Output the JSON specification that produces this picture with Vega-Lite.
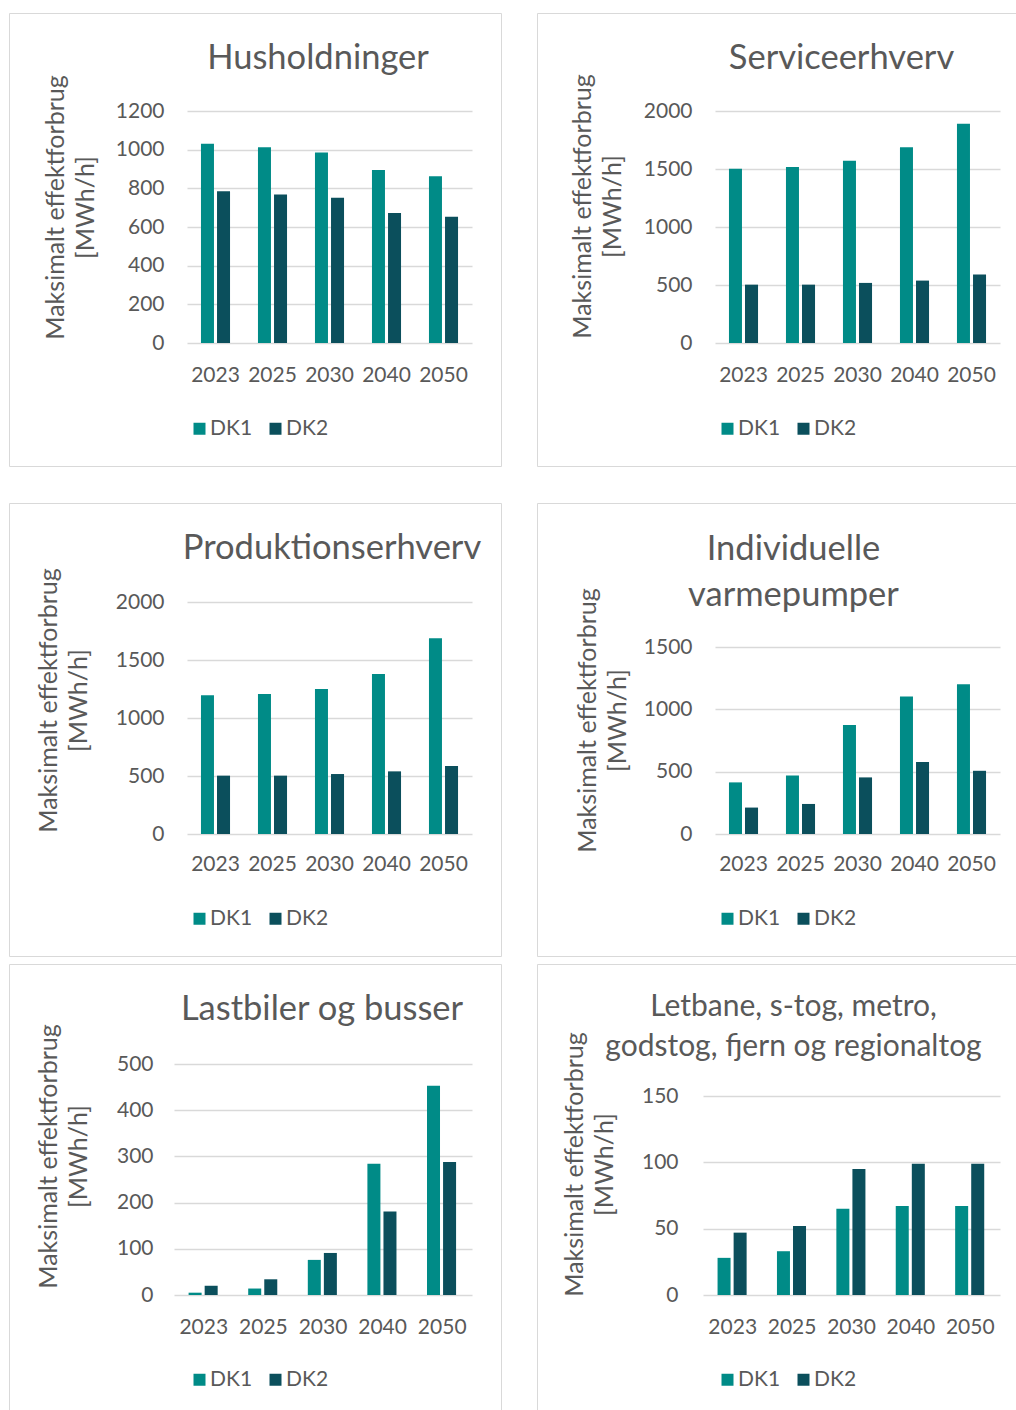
{
  "$schema": "https://vega.github.io/schema/vega-lite/v6.json",
  "padding": {"left": 8, "top": 12, "right": 0, "bottom": 0},
  "background": "white",
  "spacing": 6,
  "config": {
    "font": "Lato",
    "view": {"stroke": "#d9d9d9", "strokeWidth": 1},
    "axis": {
      "labelColor": "#595959", "labelFont": "Lato", "labelFontSize": 21,
      "domain": false, "ticks": false, "tickSize": 0,
      "gridColor": "#d9d9d9", "gridWidth": 1.5,
      "titleColor": "#595959", "titleFont": "Lato", "titleFontWeight": "normal", "titleFontSize": 25
    },
    "legend": {
      "orient": "none", "direction": "horizontal", "symbolType": "square", "symbolSize": 144,
      "symbolStrokeWidth": 0, "labelFont": "Lato", "labelFontSize": 21, "labelColor": "#595959",
      "columnPadding": 12, "labelOffset": 0, "title": null
    },
    "title": {"font": "Lato", "fontSize": 34.5, "fontWeight": "normal", "color": "#595959", "anchor": "middle", "frame": "group"}
  },
  "vconcat": [
    {
      "vconcat": [
        {
          "hconcat": [
            {
              "width": 492, "height": 453,
              "title": {"text": "Husholdninger", "offset": -63, "dx": 63},
              "data": {"values": [
                {"year": "2023", "zone": "DK1", "value": 1030}, {"year": "2023", "zone": "DK2", "value": 785},
                {"year": "2025", "zone": "DK1", "value": 1012}, {"year": "2025", "zone": "DK2", "value": 768},
                {"year": "2030", "zone": "DK1", "value": 985}, {"year": "2030", "zone": "DK2", "value": 751},
                {"year": "2040", "zone": "DK1", "value": 895}, {"year": "2040", "zone": "DK2", "value": 673},
                {"year": "2050", "zone": "DK1", "value": 863}, {"year": "2050", "zone": "DK2", "value": 653}
              ]},
              "mark": {"type": "bar"},
              "encoding": {
                "x": {"field": "year", "type": "nominal", "sort": null, "scale": {"range": [178, 463], "paddingInner": 0.49, "paddingOuter": 0.245}, "axis": {"title": null, "grid": false, "offset": -123, "labelPadding": 32, "labelBaseline": "middle", "labelAngle": 0}},
                "xOffset": {"field": "zone", "type": "nominal", "scale": {"paddingInner": 0.19, "paddingOuter": 0}},
                "y": {"field": "value", "type": "quantitative", "scale": {"domain": [0, 1200], "range": [330, 98], "nice": false}, "axis": {"values": [0, 200, 400, 600, 800, 1000, 1200], "format": "d", "offset": -155, "labelPadding": 0, "title": ["Maksimalt effektforbrug", "[MWh/h]"], "titleAngle": 270, "titleAlign": "center", "titleBaseline": "middle", "titleX": -109, "titleY": 194, "titleLineHeight": 30}},
                "color": {"field": "zone", "type": "nominal", "scale": {"domain": ["DK1", "DK2"], "range": ["#008B87", "#0B4F5C"]}, "legend": {"legendX": 180, "legendY": 405}}
              }
            },
            {
              "width": 479, "height": 453,
              "title": {"text": "Serviceerhverv", "offset": -63, "dx": 65},
              "data": {"values": [
                {"year": "2023", "zone": "DK1", "value": 1503}, {"year": "2023", "zone": "DK2", "value": 503},
                {"year": "2025", "zone": "DK1", "value": 1517}, {"year": "2025", "zone": "DK2", "value": 503},
                {"year": "2030", "zone": "DK1", "value": 1572}, {"year": "2030", "zone": "DK2", "value": 518},
                {"year": "2040", "zone": "DK1", "value": 1687}, {"year": "2040", "zone": "DK2", "value": 538},
                {"year": "2050", "zone": "DK1", "value": 1891}, {"year": "2050", "zone": "DK2", "value": 590}
              ]},
              "mark": {"type": "bar"},
              "encoding": {
                "x": {"field": "year", "type": "nominal", "sort": null, "scale": {"range": [178, 463], "paddingInner": 0.49, "paddingOuter": 0.245}, "axis": {"title": null, "grid": false, "offset": -123, "labelPadding": 32, "labelBaseline": "middle", "labelAngle": 0}},
                "xOffset": {"field": "zone", "type": "nominal", "scale": {"paddingInner": 0.19, "paddingOuter": 0}},
                "y": {"field": "value", "type": "quantitative", "scale": {"domain": [0, 2000], "range": [330, 98], "nice": false}, "axis": {"values": [0, 500, 1000, 1500, 2000], "format": "d", "offset": -155, "labelPadding": 0, "title": ["Maksimalt effektforbrug", "[MWh/h]"], "titleAngle": 270, "titleAlign": "center", "titleBaseline": "middle", "titleX": -110, "titleY": 193, "titleLineHeight": 30}},
                "color": {"field": "zone", "type": "nominal", "scale": {"domain": ["DK1", "DK2"], "range": ["#008B87", "#0B4F5C"]}, "legend": {"legendX": 180, "legendY": 405}}
              }
            }
          ],
          "spacing": 34,
          "resolve": {"scale": {"color": "independent"}}
        },
        {
          "hconcat": [
            {
              "width": 492, "height": 453,
              "title": {"text": "Produktionserhverv", "offset": -63, "dx": 77},
              "data": {"values": [
                {"year": "2023", "zone": "DK1", "value": 1196}, {"year": "2023", "zone": "DK2", "value": 503},
                {"year": "2025", "zone": "DK1", "value": 1207}, {"year": "2025", "zone": "DK2", "value": 503},
                {"year": "2030", "zone": "DK1", "value": 1250}, {"year": "2030", "zone": "DK2", "value": 517},
                {"year": "2040", "zone": "DK1", "value": 1379}, {"year": "2040", "zone": "DK2", "value": 540},
                {"year": "2050", "zone": "DK1", "value": 1687}, {"year": "2050", "zone": "DK2", "value": 586}
              ]},
              "mark": {"type": "bar"},
              "encoding": {
                "x": {"field": "year", "type": "nominal", "sort": null, "scale": {"range": [178, 463], "paddingInner": 0.49, "paddingOuter": 0.245}, "axis": {"title": null, "grid": false, "offset": -122, "labelPadding": 30, "labelBaseline": "middle", "labelAngle": 0}},
                "xOffset": {"field": "zone", "type": "nominal", "scale": {"paddingInner": 0.19, "paddingOuter": 0}},
                "y": {"field": "value", "type": "quantitative", "scale": {"domain": [0, 2000], "range": [331, 99], "nice": false}, "axis": {"values": [0, 500, 1000, 1500, 2000], "format": "d", "offset": -155, "labelPadding": 0, "title": ["Maksimalt effektforbrug", "[MWh/h]"], "titleAngle": 270, "titleAlign": "center", "titleBaseline": "middle", "titleX": -116, "titleY": 197, "titleLineHeight": 30}},
                "color": {"field": "zone", "type": "nominal", "scale": {"domain": ["DK1", "DK2"], "range": ["#008B87", "#0B4F5C"]}, "legend": {"legendX": 180, "legendY": 405}}
              }
            },
            {
              "width": 479, "height": 453,
              "title": {"text": ["Individuelle", "varmepumper"], "offset": -110, "dx": 17, "lineHeight": 46},
              "data": {"values": [
                {"year": "2023", "zone": "DK1", "value": 414}, {"year": "2023", "zone": "DK2", "value": 212},
                {"year": "2025", "zone": "DK1", "value": 470}, {"year": "2025", "zone": "DK2", "value": 241},
                {"year": "2030", "zone": "DK1", "value": 875}, {"year": "2030", "zone": "DK2", "value": 454},
                {"year": "2040", "zone": "DK1", "value": 1102}, {"year": "2040", "zone": "DK2", "value": 577},
                {"year": "2050", "zone": "DK1", "value": 1202}, {"year": "2050", "zone": "DK2", "value": 507}
              ]},
              "mark": {"type": "bar"},
              "encoding": {
                "x": {"field": "year", "type": "nominal", "sort": null, "scale": {"range": [178, 463], "paddingInner": 0.49, "paddingOuter": 0.245}, "axis": {"title": null, "grid": false, "offset": -122, "labelPadding": 30, "labelBaseline": "middle", "labelAngle": 0}},
                "xOffset": {"field": "zone", "type": "nominal", "scale": {"paddingInner": 0.19, "paddingOuter": 0}},
                "y": {"field": "value", "type": "quantitative", "scale": {"domain": [0, 1500], "range": [331, 144], "nice": false}, "axis": {"values": [0, 500, 1000, 1500], "format": "d", "offset": -155, "labelPadding": 0, "title": ["Maksimalt effektforbrug", "[MWh/h]"], "titleAngle": 270, "titleAlign": "center", "titleBaseline": "middle", "titleX": -105, "titleY": 217, "titleLineHeight": 30}},
                "color": {"field": "zone", "type": "nominal", "scale": {"domain": ["DK1", "DK2"], "range": ["#008B87", "#0B4F5C"]}, "legend": {"legendX": 180, "legendY": 405}}
              }
            }
          ],
          "spacing": 34,
          "resolve": {"scale": {"color": "independent"}}
        }
      ],
      "spacing": 35,
      "resolve": {"scale": {"color": "independent"}}
    },
    {
      "hconcat": [
        {
          "width": 492, "height": 446,
          "title": {"text": "Lastbiler og busser", "offset": -63, "dx": 67},
          "data": {"values": [
            {"year": "2023", "zone": "DK1", "value": 5}, {"year": "2023", "zone": "DK2", "value": 20},
            {"year": "2025", "zone": "DK1", "value": 14}, {"year": "2025", "zone": "DK2", "value": 34},
            {"year": "2030", "zone": "DK1", "value": 76}, {"year": "2030", "zone": "DK2", "value": 91},
            {"year": "2040", "zone": "DK1", "value": 284}, {"year": "2040", "zone": "DK2", "value": 181},
            {"year": "2050", "zone": "DK1", "value": 453}, {"year": "2050", "zone": "DK2", "value": 288}
          ]},
          "mark": {"type": "bar"},
          "encoding": {
            "x": {"field": "year", "type": "nominal", "sort": null, "scale": {"range": [165, 463], "paddingInner": 0.49, "paddingOuter": 0.245}, "axis": {"title": null, "grid": false, "offset": -115, "labelPadding": 32, "labelBaseline": "middle", "labelAngle": 0}},
            "xOffset": {"field": "zone", "type": "nominal", "scale": {"paddingInner": 0.19, "paddingOuter": 0}},
            "y": {"field": "value", "type": "quantitative", "scale": {"domain": [0, 500], "range": [331, 100], "nice": false}, "axis": {"values": [0, 100, 200, 300, 400, 500], "format": "d", "offset": -144, "labelPadding": 0, "title": ["Maksimalt effektforbrug", "[MWh/h]"], "titleAngle": 270, "titleAlign": "center", "titleBaseline": "middle", "titleX": -105, "titleY": 192, "titleLineHeight": 30}},
            "color": {"field": "zone", "type": "nominal", "scale": {"domain": ["DK1", "DK2"], "range": ["#008B87", "#0B4F5C"]}, "legend": {"legendX": 180, "legendY": 405}}
          }
        },
        {
          "width": 479, "height": 446,
          "title": {"text": ["Letbane, s-tog, metro,", "godstog, fjern og regionaltog"], "offset": -98, "dx": 17, "fontSize": 30, "lineHeight": 40},
          "data": {"values": [
            {"year": "2023", "zone": "DK1", "value": 28}, {"year": "2023", "zone": "DK2", "value": 47},
            {"year": "2025", "zone": "DK1", "value": 33}, {"year": "2025", "zone": "DK2", "value": 52},
            {"year": "2030", "zone": "DK1", "value": 65}, {"year": "2030", "zone": "DK2", "value": 95},
            {"year": "2040", "zone": "DK1", "value": 67}, {"year": "2040", "zone": "DK2", "value": 99},
            {"year": "2050", "zone": "DK1", "value": 67}, {"year": "2050", "zone": "DK2", "value": 99}
          ]},
          "mark": {"type": "bar"},
          "encoding": {
            "x": {"field": "year", "type": "nominal", "sort": null, "scale": {"range": [166, 463], "paddingInner": 0.49, "paddingOuter": 0.245}, "axis": {"title": null, "grid": false, "offset": -115, "labelPadding": 32, "labelBaseline": "middle", "labelAngle": 0}},
            "xOffset": {"field": "zone", "type": "nominal", "scale": {"paddingInner": 0.19, "paddingOuter": 0}},
            "y": {"field": "value", "type": "quantitative", "scale": {"domain": [0, 150], "range": [331, 132], "nice": false}, "axis": {"values": [0, 50, 100, 150], "format": "d", "offset": -141, "labelPadding": 0, "title": ["Maksimalt effektforbrug", "[MWh/h]"], "titleAngle": 270, "titleAlign": "center", "titleBaseline": "middle", "titleX": -104, "titleY": 200, "titleLineHeight": 30}},
            "color": {"field": "zone", "type": "nominal", "scale": {"domain": ["DK1", "DK2"], "range": ["#008B87", "#0B4F5C"]}, "legend": {"legendX": 180, "legendY": 405}}
          }
        }
      ],
      "spacing": 34,
      "resolve": {"scale": {"color": "independent"}}
    }
  ],
  "resolve": {"scale": {"color": "independent"}}
}
